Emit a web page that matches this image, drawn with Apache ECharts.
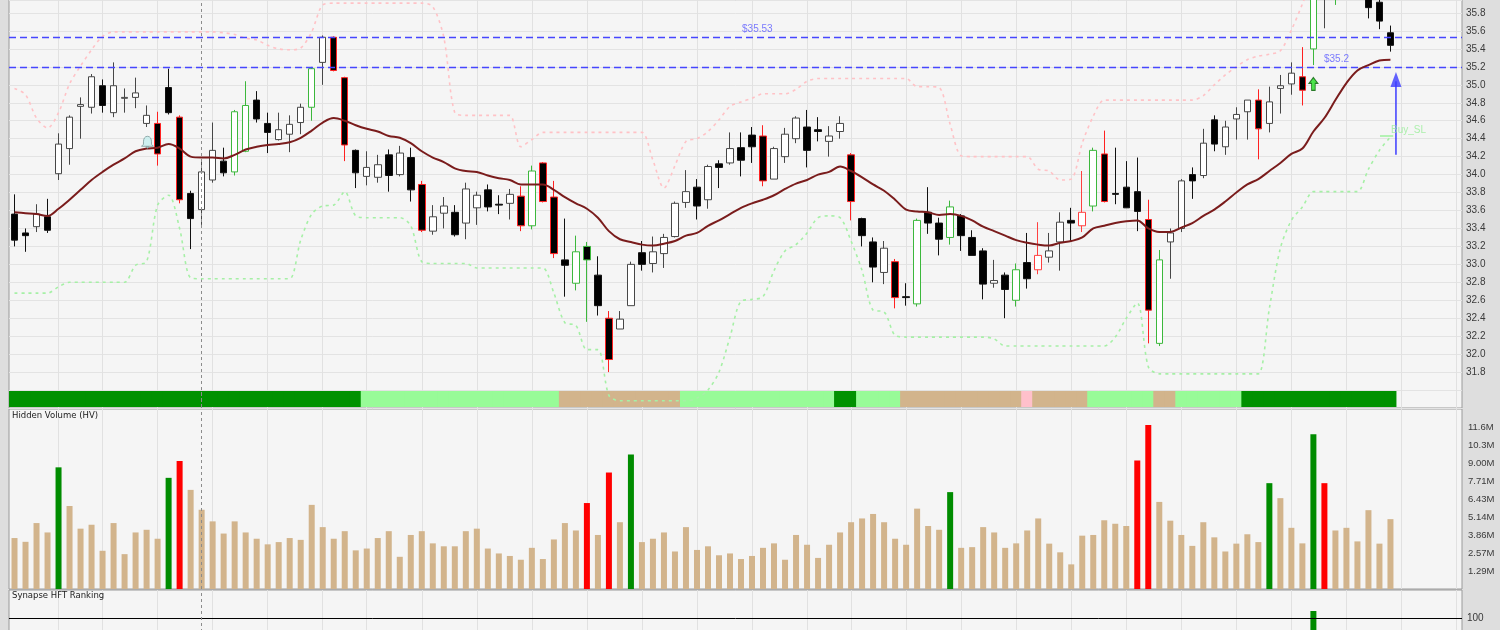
<!DOCTYPE html>
<html><head><meta charset="utf-8">
<script src="https://cdn.jsdelivr.net/npm/echarts/dist/echarts.min.js"></script>
<style>html,body{margin:0;padding:0;background:#dedede}#c{width:1500px;height:630px}</style>
</head><body><div id="c"></div><script>
const N = 132;
const categories = Array.from({length: N}, (_, i) => 'D' + (i + 1));

const open  = [33.56,33.35,33.42,33.53,34.01,34.29,34.76,34.75,34.99,34.69,34.85,34.86,34.57,34.57,34.97,34.64,33.79,33.61,33.94,34.15,34.03,34.26,34.83,34.57,34.39,34.45,34.58,34.75,35.25,35.53,35.08,34.27,33.98,33.97,34.22,34.00,34.19,33.89,33.37,33.57,33.58,33.46,33.63,33.83,33.67,33.68,33.76,33.43,34.13,33.75,33.05,32.79,33.20,32.88,32.40,32.28,32.54,33.13,33.01,33.12,33.31,33.69,33.86,33.72,34.12,34.13,34.30,34.44,34.43,33.95,34.20,34.40,34.53,34.50,34.37,34.48,34.22,33.51,33.25,32.91,33.03,32.64,32.56,33.58,33.46,33.30,33.54,33.30,33.15,32.79,32.88,32.60,33.02,32.94,33.08,33.25,33.49,33.43,33.65,34.23,33.79,33.86,33.81,33.50,32.12,33.25,33.40,34.00,33.99,34.61,34.31,34.62,34.70,34.83,34.57,34.96,35.01,35.09,35.40,36.05,36.10,36.50,36.60,36.10,35.92,35.58];
const close = [33.27,33.32,33.56,33.38,34.34,34.64,34.78,35.09,34.77,34.99,34.86,34.91,34.66,34.23,34.69,33.72,33.51,34.03,34.27,34.02,34.70,34.77,34.62,34.47,34.50,34.56,34.75,35.18,35.53,35.16,34.33,34.02,34.08,34.11,33.99,34.24,33.83,33.38,33.53,33.65,33.33,33.84,33.77,33.64,33.66,33.78,33.43,34.04,33.70,33.12,32.99,33.14,33.05,32.54,31.94,32.39,33.00,33.00,33.14,33.30,33.68,33.81,33.65,34.09,34.08,34.29,34.16,34.31,33.93,34.29,34.45,34.63,34.27,34.48,34.43,34.57,33.70,33.32,32.97,33.18,32.63,32.63,33.49,33.46,33.28,33.64,33.32,33.10,32.78,32.82,32.72,32.94,32.84,33.10,33.15,33.47,33.46,33.58,34.27,33.70,33.78,33.63,33.59,32.49,33.05,33.35,33.93,33.93,34.35,34.34,34.53,34.67,34.83,34.51,34.81,34.99,35.13,34.94,36.15,36.35,36.50,36.70,36.40,35.86,35.71,35.44];
const low   = [33.20,33.14,33.36,33.35,33.94,34.11,34.40,34.68,34.69,34.64,34.69,34.74,34.53,34.10,34.67,33.68,33.17,33.44,33.91,33.98,33.99,34.25,34.58,34.24,34.38,34.25,34.45,34.60,35.00,35.15,34.15,33.85,33.88,33.91,33.81,33.98,33.70,33.36,33.33,33.40,33.31,33.28,33.44,33.59,33.56,33.50,33.37,33.39,33.69,33.07,32.64,32.71,32.36,32.43,31.80,32.28,32.54,32.93,32.91,32.96,33.30,33.63,33.50,33.62,33.85,34.11,33.98,34.13,33.87,33.95,34.13,34.35,34.08,34.37,34.20,34.40,33.49,33.20,32.80,32.78,32.51,32.54,32.53,33.34,33.10,33.22,33.15,33.10,32.61,32.74,32.40,32.53,32.73,32.89,33.02,32.93,33.26,33.36,33.59,33.69,33.67,33.63,33.37,32.12,32.09,32.84,33.36,33.73,33.96,34.26,34.22,34.39,34.39,34.17,34.47,34.68,34.89,34.77,35.22,35.63,35.89,36.30,36.20,35.74,35.62,35.37];
const high  = [33.78,33.40,33.67,33.73,34.46,34.66,34.86,35.12,35.06,35.25,34.96,35.08,34.77,34.70,35.18,34.66,33.82,34.16,34.58,34.30,34.72,35.04,34.93,34.69,34.69,34.66,34.79,35.20,35.55,35.54,35.09,34.28,34.26,34.22,34.28,34.32,34.30,33.93,33.66,33.75,33.66,33.91,33.81,33.89,33.77,33.84,33.87,34.10,34.14,33.93,33.51,33.32,33.25,33.09,32.48,32.48,33.03,33.26,33.31,33.34,33.70,34.05,33.95,34.11,34.16,34.47,34.47,34.53,34.55,34.31,34.52,34.65,34.72,34.64,34.54,34.65,34.24,33.52,33.30,33.26,33.06,32.79,33.51,33.86,33.52,33.71,33.56,33.38,33.18,33.05,32.91,33.01,33.35,33.47,33.35,33.58,33.63,34.04,34.30,34.49,34.30,34.15,34.19,33.72,33.16,33.40,33.95,34.08,34.51,34.66,34.60,34.75,34.83,34.95,34.98,35.11,35.25,35.42,36.20,36.40,36.55,36.80,36.80,36.20,36.00,35.66];
// n = plain, r = red outline, g = green outline, p = red outline (rising)
const candleFlag = ['n','n','n','n','n','n','n','n','n','n','n','n','n','r','n','r','n','n','n','n','g','g','n','n','n','n','n','g','n','r','r','n','n','n','n','n','n','r','n','n','n','n','n','n','n','n','r','g','r','r','n','g','g','n','r','n','n','n','n','n','n','n','n','n','n','n','n','n','r','n','n','n','n','n','n','n','r','n','n','n','r','n','g','n','n','g','n','n','n','n','n','g','n','p','n','n','n','p','g','r','n','n','n','r','g','n','n','n','n','n','n','n','n','r','n','n','n','r','g','n','g','n','n','n','n','n'];
const ma = [33.58,33.57,33.56,33.54,33.62,33.72,33.83,33.94,34.03,34.11,34.18,34.26,34.29,34.30,34.34,34.29,34.20,34.19,34.19,34.18,34.22,34.28,34.31,34.33,34.34,34.36,34.41,34.49,34.58,34.63,34.60,34.55,34.51,34.48,34.43,34.41,34.35,34.26,34.19,34.14,34.07,34.04,34.03,33.99,33.96,33.94,33.89,33.89,33.89,33.83,33.75,33.68,33.62,33.52,33.37,33.28,33.25,33.22,33.21,33.23,33.26,33.32,33.35,33.43,33.49,33.56,33.63,33.68,33.72,33.77,33.84,33.90,33.94,34.00,34.03,34.09,34.04,33.97,33.89,33.82,33.72,33.61,33.59,33.58,33.55,33.56,33.54,33.49,33.42,33.37,33.32,33.27,33.24,33.22,33.21,33.24,33.26,33.30,33.40,33.43,33.46,33.48,33.49,33.40,33.36,33.36,33.41,33.46,33.54,33.61,33.70,33.80,33.89,33.95,34.04,34.13,34.23,34.29,34.48,34.63,34.83,35.02,35.16,35.22,35.27,35.28];
const upperBand = [34.96,34.89,34.63,34.52,34.69,35.01,35.21,35.39,35.54,35.59,35.59,35.59,35.59,35.59,35.59,35.59,35.59,35.59,35.59,35.58,35.56,35.52,35.50,35.44,35.40,35.39,35.41,35.59,35.89,35.91,35.91,35.91,35.91,35.91,35.91,35.91,35.91,35.91,35.87,35.53,34.69,34.66,34.66,34.66,34.66,34.66,34.31,34.39,34.47,34.47,34.47,34.47,34.47,34.47,34.47,34.47,34.47,34.47,34.16,33.85,34.10,34.37,34.40,34.48,34.61,34.76,34.81,34.85,34.90,34.90,34.90,34.95,35.04,35.07,35.07,35.07,35.07,35.07,35.07,35.07,35.07,35.07,34.98,34.98,34.97,34.56,34.21,34.20,34.20,34.20,34.20,34.20,34.20,34.06,34.04,33.94,33.95,34.35,34.65,34.83,34.83,34.83,34.83,34.83,34.83,34.83,34.83,34.83,34.88,35.00,35.11,35.20,35.28,35.32,35.34,35.38,35.61,35.90,36.20,36.30,36.40,null,null,null,null,null];
const lowerBand = [32.68,32.68,32.68,32.68,32.75,32.80,32.80,32.80,32.80,32.80,32.80,32.99,33.03,33.66,33.77,33.40,32.85,32.84,32.84,32.84,32.84,32.84,32.84,32.84,32.84,32.84,33.27,33.56,33.65,33.66,33.81,33.54,33.52,33.52,33.52,33.52,33.43,33.03,33.01,33.01,33.01,33.01,32.96,32.96,32.96,32.96,32.96,32.96,32.96,32.68,32.35,32.32,32.05,32.05,31.54,31.48,31.48,31.48,31.48,31.48,31.48,31.48,31.51,31.60,31.80,32.19,32.59,32.61,32.64,32.93,33.15,33.22,33.35,33.52,33.54,33.52,33.26,32.93,32.49,32.47,32.21,32.19,32.19,32.19,32.19,32.19,32.19,32.19,32.19,32.17,32.09,32.09,32.09,32.09,32.09,32.09,32.09,32.09,32.09,32.09,32.19,32.40,32.57,31.86,31.78,31.78,31.78,31.78,31.78,31.78,31.78,31.78,31.78,31.78,32.51,33.18,33.49,33.64,33.81,33.81,33.81,33.81,33.81,34.06,34.27,34.42];
// hidden volume, millions
const volume = [3.64,3.37,4.71,4.04,8.69,5.93,4.31,4.59,2.73,4.71,2.49,4.04,4.23,3.59,7.94,9.15,7.08,5.66,4.83,3.96,4.83,4.04,3.59,3.19,3.35,3.64,3.51,6.01,4.42,3.59,4.13,2.76,2.89,3.64,4.13,2.30,3.86,4.13,3.26,3.05,3.05,4.13,4.31,2.89,2.54,2.36,2.09,2.94,2.14,3.54,4.71,4.18,6.14,3.86,8.32,4.77,9.61,3.35,3.59,4.04,2.68,4.42,2.79,3.05,2.41,2.54,2.14,2.36,2.94,3.26,2.09,3.86,3.16,2.22,3.16,4.04,4.77,5.04,5.36,4.77,3.59,3.16,5.74,4.50,4.23,6.92,2.94,2.99,4.42,4.04,2.94,3.26,4.18,5.04,3.24,2.62,1.76,3.81,3.86,4.91,4.66,4.50,9.18,11.71,6.22,4.88,3.86,3.08,4.77,3.69,2.68,3.24,3.91,3.35,7.56,6.49,4.37,3.26,11.06,7.56,4.18,4.37,3.40,5.63,3.24,4.99];
const volumeFlag = ['n','n','n','n','g','n','n','n','n','n','n','n','n','n','g','r','n','n','n','n','n','n','n','n','n','n','n','n','n','n','n','n','n','n','n','n','n','n','n','n','n','n','n','n','n','n','n','n','n','n','n','n','r','n','r','n','g','n','n','n','n','n','n','n','n','n','n','n','n','n','n','n','n','n','n','n','n','n','n','n','n','n','n','n','n','g','n','n','n','n','n','n','n','n','n','n','n','n','n','n','n','n','r','r','n','n','n','n','n','n','n','n','n','n','g','n','n','n','g','r','n','n','n','n','n','n'];
// trend band state per bar: D dark green, L light green, T tan, P pink
const bandState = 'DDDDDDDDDDDDDDDDDDDDDDDDDDDDDDDDLLLLLLLLLLLLLLLLLLTTTTTTTTTTTLLLLLLLLLLLLLLDDLLLLTTTTTTTTTTTPTTTTTLLLLLLTTLLLLLLDDDDDDDDDDDDDD'.split('');
// Synapse HFT ranking (only one bar visible)
const ranking = volume.map((v, i) => i === 118 ? 105 : null);
const weekStarts = [4,8,13,18,23,28,32,37,42,47,52,57,62,67,72,76,81,86,91,96,101,106,111,116,121,126,131];
const cursorIndex = 17;
const priceLevels = [35.53, 35.2];
const levelLabels = [{text: '$35.53', x: 67.48, y: 35.616}, {text: '$35.2', x: 120.1, y: 35.282}];

const flagColor = {r: '#ff2020', g: '#3cb83c', p: '#ff4040'};
const candleData = open.map((o, i) => {
  const item = {value: [o, close[i], low[i], high[i]]};
  const f = candleFlag[i];
  if (f !== 'n') item.itemStyle = {borderColor: flagColor[f], borderColor0: flagColor[f]};
  return item;
});
const volColor = {n: '#d2b48c', g: '#008c00', r: '#ff0000'};
const volData = volume.map((v, i) => ({value: v, itemStyle: {color: volColor[volumeFlag[i]]}}));
const bandColorMap = {D: '#009100', L: '#98fb98', T: '#d2b48c', P: '#ffc0cb'};
const bandData = bandState.map(s => ({value: 1, itemStyle: {color: bandColorMap[s]}}));

const weekMark = (z) => ({
  silent: true, symbol: 'none', z: z, animation: false,
  label: {show: false},
  lineStyle: {color: '#e1e1e1', type: 'solid', width: 1},
  data: weekStarts.map(w => ({xAxis: w}))
});
const cursorMark = {
  silent: true, symbol: 'none', animation: false, label: {show: false},
  lineStyle: {color: '#8c8c8c', type: [3, 3], width: 1},
  data: [{xAxis: cursorIndex}]
};

const L = 9, W = 1453;
const gridBase = {left: L, width: W, show: true, backgroundColor: '#f5f5f5', borderColor: '#9a9a9a', borderWidth: 1, containLabel: false, outerBoundsMode: 'none'};
const catAxis = (g) => ({type: 'category', gridIndex: g, data: categories, boundaryGap: true,
  axisLine: {show: false}, axisTick: {show: false}, axisLabel: {show: false}, splitLine: {show: false}});

const option = {
  backgroundColor: '#dedede',
  animation: false,
  title: [
    {text: 'Hidden Volume (HV)', left: 12, top: 411, padding: 0, textStyle: {fontSize: 8.5, fontFamily: 'DejaVu Sans', fontWeight: 'normal', color: '#1a1a1a'}},
    {text: 'Synapse HFT Ranking', left: 12, top: 591, padding: 0, textStyle: {fontSize: 8.5, fontFamily: 'DejaVu Sans', fontWeight: 'normal', color: '#1a1a1a'}}
  ],
  grid: [
    Object.assign({}, gridBase, {top: 0, height: 408}),
    Object.assign({}, gridBase, {top: 409, height: 180}),
    Object.assign({}, gridBase, {top: 391, height: 16, show: false}),
    Object.assign({}, gridBase, {top: 590, height: 168})
  ],
  xAxis: [catAxis(0), catAxis(1), catAxis(2), catAxis(3),
    {type: 'value', gridIndex: 0, min: -0.5, max: N - 0.5, show: false, splitLine: {show: false}}],
  yAxis: [
    {type: 'value', gridIndex: 0, position: 'right', min: 31.4, max: 35.945, interval: 0.2,
      axisLine: {show: false}, axisTick: {show: false},
      axisLabel: {margin: 4, color: '#3a3a3a', fontFamily: 'Liberation Sans', fontSize: 10, showMaxLabel: false, showMinLabel: false,
        formatter: v => (v > 31.75 && v < 35.85) ? v.toFixed(1) : ''},
      splitLine: {show: true, lineStyle: {color: '#e3e3e3', width: 1}}},
    {type: 'value', gridIndex: 1, position: 'right', min: 0, max: 90 / 7, interval: 9 / 7,
      axisLine: {show: false}, axisTick: {show: false},
      axisLabel: {margin: 6, color: '#3a3a3a', fontFamily: 'Liberation Sans', fontSize: 9.5, showMaxLabel: false, showMinLabel: false,
        formatter: v => (v > 0.5 && v < 12.5) ? v.toPrecision(3) + 'M' : ''},
      splitLine: {show: false}},
    {type: 'value', gridIndex: 2, min: 0, max: 1, show: false},
    {type: 'value', gridIndex: 3, position: 'right', min: 0, max: 120, interval: 100,
      axisLine: {show: false}, axisTick: {show: false},
      axisLabel: {margin: 5, color: '#3a3a3a', fontFamily: 'Liberation Sans', fontSize: 10, showMaxLabel: false,
        formatter: v => v === 100 ? '100' : ''},
      splitLine: {show: false}}
  ],
  series: [
    // weekly grid lines (price, volume, ranking)
    {type: 'line', xAxisIndex: 0, yAxisIndex: 0, data: [], z: 1, markLine: weekMark(1)},
    {type: 'line', xAxisIndex: 1, yAxisIndex: 1, data: [], z: 1, markLine: weekMark(1)},
    {type: 'line', xAxisIndex: 3, yAxisIndex: 3, data: [], z: 1, markLine: weekMark(1)},
    // trend band
    {type: 'bar', xAxisIndex: 2, yAxisIndex: 2, data: bandData, barWidth: 12, z: 2, silent: true, markLine: cursorMark},
    // channel lines
    {type: 'line', xAxisIndex: 0, yAxisIndex: 0, data: upperBand, showSymbol: false, smooth: 0.3, z: 3,
      lineStyle: {color: '#ffc2c6', width: 1.6, type: [3, 4]}},
    {type: 'line', xAxisIndex: 0, yAxisIndex: 0, data: lowerBand, showSymbol: false, smooth: 0.3, z: 6,
      lineStyle: {color: '#a6f0a6', width: 1.6, type: [3, 4]}},
    // candles
    {type: 'candlestick', xAxisIndex: 0, yAxisIndex: 0, data: candleData, barWidth: 7, clip: true, z: 4,
      itemStyle: {color: '#ffffff', color0: '#000000', borderColor: '#474747', borderColor0: '#111111', borderWidth: 1},
      markLine: cursorMark},
    // moving average
    {type: 'line', xAxisIndex: 0, yAxisIndex: 0, data: ma, showSymbol: false, smooth: 0.35, z: 5,
      lineStyle: {color: '#7a1c1c', width: 2}},
    // price levels + annotations on value x-axis
    {type: 'line', xAxisIndex: 4, yAxisIndex: 0, data: [], z: 6,
      markLine: {silent: true, symbol: 'none', animation: false, label: {show: false},
        lineStyle: {color: '#4646ff', type: [7, 4], width: 1.3},
        data: priceLevels.map(p => ({yAxis: p}))}},
    {type: 'scatter', xAxisIndex: 4, yAxisIndex: 0, z: 7, symbolSize: 0, silent: true,
      data: levelLabels.map(d => ({value: [d.x, d.y], label: {show: true, formatter: d.text}})),
      label: {position: 'inside', color: '#5a5aff', fontFamily: 'Liberation Sans', fontSize: 10}},
    // blue arrow
    {type: 'line', xAxisIndex: 4, yAxisIndex: 0, z: 7, showSymbol: false, silent: true,
      data: [[125.5, 34.22], [125.5, 35.04]], lineStyle: {color: '#3c3cff', width: 1.5}},
    {type: 'scatter', xAxisIndex: 4, yAxisIndex: 0, z: 7, silent: true, symbol: 'triangle', symbolSize: [11, 15],
      itemStyle: {color: '#3c3cff'}, data: [[125.5, 35.06]]},
    // Buy_SL marker
    {type: 'line', xAxisIndex: 4, yAxisIndex: 0, z: 7, showSymbol: false, silent: true,
      data: [[124.05, 34.43], [125.25, 34.43]], lineStyle: {color: '#9ef09e', width: 1.3}},
    {type: 'scatter', xAxisIndex: 4, yAxisIndex: 0, z: 7, symbolSize: 0, silent: true,
      data: [{value: [126.64, 34.496], label: {show: true, formatter: 'Buy_SL'}}],
      label: {position: 'inside', color: '#98ee98', fontFamily: 'Liberation Sans', fontSize: 10}},
    // green up arrow signal
    {type: 'scatter', xAxisIndex: 4, yAxisIndex: 0, z: 7, silent: true,
      symbol: 'path://M5,0 L10,6 L7,6 L7,13 L3,13 L3,6 L0,6 Z', symbolSize: [9, 13],
      itemStyle: {color: '#22e022', borderColor: '#0b5e0b', borderWidth: 1}, data: [[118, 35.01]]},
    // alert bell
    {type: 'scatter', xAxisIndex: 4, yAxisIndex: 0, z: 7, silent: true,
      symbol: 'path://M6,0 C3.2,0 2,2.6 2,5.5 L2,8 L0,10 L12,10 L10,8 L10,5.5 C10,2.6 8.8,0 6,0 Z M4.5,10.6 L7.5,10.6 L6,12 Z', symbolSize: [12, 12],
      itemStyle: {color: '#c4eeee', borderColor: '#7d9a9a', borderWidth: 1}, data: [[12.08, 34.36]]},
    // hidden volume
    {type: 'bar', xAxisIndex: 1, yAxisIndex: 1, data: volData, barWidth: 6, z: 3, markLine: cursorMark},
    // ranking
    {type: 'bar', xAxisIndex: 3, yAxisIndex: 3, data: ranking, barWidth: 6, z: 3,
      itemStyle: {color: '#008c00'},
      markLine: {silent: true, symbol: 'none', animation: false, label: {show: false}, z: 4,
        lineStyle: {color: '#000000', type: 'solid', width: 1}, data: [{yAxis: 100}]}},
    {type: 'line', xAxisIndex: 3, yAxisIndex: 3, data: [], z: 5, markLine: cursorMark}
  ]
};
const chart = echarts.init(document.getElementById('c'), null, {renderer: 'canvas'});
chart.setOption(option);
</script></body></html>
